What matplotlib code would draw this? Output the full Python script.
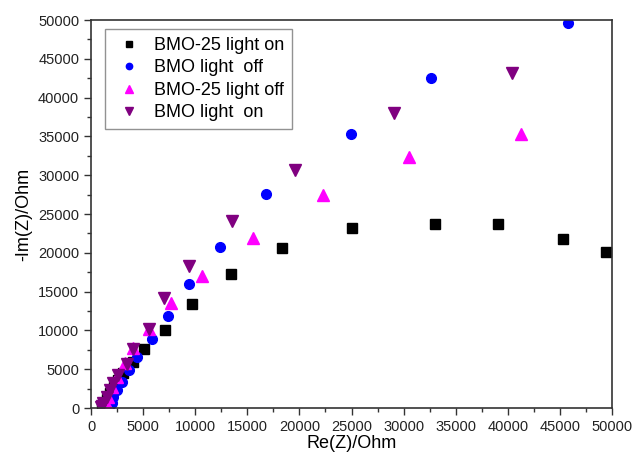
import numpy as np
import matplotlib
matplotlib.use('Agg')
from matplotlib import pyplot as plt
from matplotlib.ticker import MultipleLocator

plt.rcParams['font.family'] = ['Liberation Sans', 'DejaVu Sans']

# BMO-25 light on
bmo25_on_x = [1050, 1250, 1500, 1800, 2200, 2600, 3100, 4000, 5120, 7130, 9660, 13440,
              18300, 25050, 33020, 39060, 45300, 49440]
bmo25_on_y = [120, 600, 1200, 1900, 2700, 3600, 4470, 5970, 7600, 10010, 13400, 17230,
              20590, 23200, 23720, 23720, 21780, 20100]

# BMO light off
bmo_off_x = [1700, 1850, 1980, 2140, 2460, 2940, 3650, 4450, 5820, 7420, 9440, 12350,
             16800, 24950, 32630, 45800]
bmo_off_y = [100, 350, 640, 1460, 2320, 3390, 4900, 6610, 8900, 11900, 15940, 20790,
             27590, 35320, 42540, 49600]

# BMO-25 light off
bmo25_off_x = [1250, 1400, 1500, 1660, 1980, 2470, 3260, 4060, 5600, 7650, 10620, 15580,
               22240, 30490, 41240]
bmo25_off_y = [100, 250, 390, 1460, 2750, 4030, 5760, 7700, 10140, 13490, 17010, 21950,
               27460, 32350, 35320]

# BMO light on
bmo_on_x = [1000, 1100, 1180, 1500, 1820, 2140, 2620, 3420, 4060, 5570, 7010, 9440,
            13560, 19610, 29090, 40400]
bmo_on_y = [100, 300, 600, 1460, 2320, 3180, 4250, 5670, 7570, 10140, 14180, 18340,
            24100, 30680, 38030, 43180]

fig = plt.figure(figsize=(6.33, 4.57), dpi=100)
ax = fig.add_axes([0.1438, 0.1072, 0.8230, 0.8490])

ax.plot(bmo25_on_x, bmo25_on_y, 's', color='black', markersize=6.5, label='BMO-25 light on')
ax.plot(bmo_off_x, bmo_off_y, 'o', color='#0000ff', markersize=7, label='BMO light  off')
ax.plot(bmo25_off_x, bmo25_off_y, '^', color='#ff00ff', markersize=8, label='BMO-25 light off')
ax.plot(bmo_on_x, bmo_on_y, 'v', color='#800080', markersize=8, label='BMO light  on')

ax.set_xlim(0, 50000)
ax.set_ylim(0, 50000)
ax.xaxis.set_major_locator(MultipleLocator(5000))
ax.xaxis.set_minor_locator(MultipleLocator(2500))
ax.yaxis.set_major_locator(MultipleLocator(5000))
ax.yaxis.set_minor_locator(MultipleLocator(2500))
ax.tick_params(which='both', direction='out', top=False, right=False, labelsize=10.5,
               colors='#333333', labelcolor='#222222')
ax.tick_params(which='major', length=5, width=1)
ax.tick_params(which='minor', length=3, width=1)
for sp in ax.spines.values():
    sp.set_linewidth(1.2)
    sp.set_color('#333333')

ax.set_xlabel('Re(Z)/Ohm', fontsize=13, labelpad=1)
ax.set_ylabel('-Im(Z)/Ohm', fontsize=13, labelpad=4)

leg = ax.legend(loc='upper left', bbox_to_anchor=(0.027, 0.977), fontsize=13,
                frameon=True, fancybox=False, borderpad=0.45, labelspacing=0.3,
                handletextpad=0.45, handlelength=1.8, markerscale=0.65,
                borderaxespad=0)
leg.get_frame().set_edgecolor('#777777')
leg.get_frame().set_linewidth(1.0)

fig.savefig('out.png', dpi=100)
